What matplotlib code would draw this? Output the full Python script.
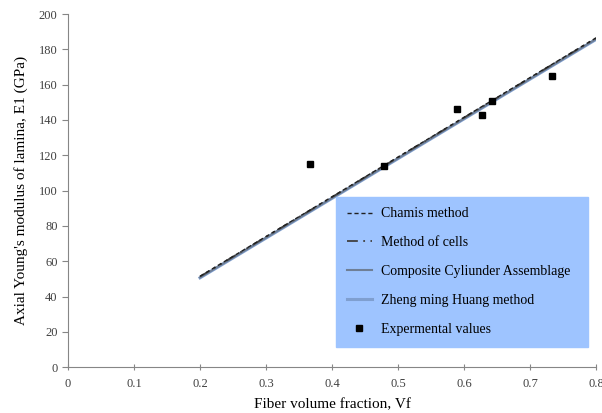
import numpy as np
import matplotlib.pyplot as plt

plt.rcParams['font.family'] = ['Liberation Serif', 'DejaVu Serif']

vf = [0.2, 0.3, 0.4, 0.5, 0.6, 0.7, 0.8]
chamis = [51.5, 74.0, 96.5, 119.0, 141.5, 164.0, 186.5]
cells = [51.3, 73.8, 96.3, 118.8, 141.3, 163.8, 186.3]
cca = [50.8, 73.3, 95.8, 118.3, 140.8, 163.3, 185.8]
huang = [50.6, 73.1, 95.6, 118.1, 140.6, 163.1, 185.6]

vf_exp = [0.366, 0.479, 0.589, 0.628, 0.643, 0.733]
e1_exp = [115, 114, 146, 143, 151, 165]

fig = plt.figure(figsize=(6.02, 4.13), dpi=100)
ax = fig.add_axes([0.113, 0.111, 0.877, 0.855])

ax.plot(vf, huang, color='#7f9fd0', lw=2.2, label='Zheng ming Huang method', zorder=2)
ax.plot(vf, cca, color='#6f7f96', lw=1.5, label='Composite Cyliunder Assemblage', zorder=3)
ax.plot(vf, cells, color='#404040', lw=1.3, dashes=(6, 3, 1, 3, 1, 3), label='Method of cells', zorder=4)
ax.plot(vf, chamis, color='#202020', lw=1.0, linestyle=(0, (3, 2)), label='Chamis method', zorder=5)
ax.plot(vf_exp, e1_exp, 's', color='black', ms=4, linestyle='none', label='Expermental values', zorder=6)

ax.set_xlim(0, 0.8)
ax.set_ylim(0, 200)
ax.set_xticks(np.arange(0, 0.81, 0.1))
ax.set_xticklabels(['0', '0.1', '0.2', '0.3', '0.4', '0.5', '0.6', '0.7', '0.8'])
ax.set_yticks(np.arange(0, 201, 20))

for s in ['top', 'right']:
    ax.spines[s].set_visible(False)
for s in ['left', 'bottom']:
    ax.spines[s].set_color('#868686')
ax.tick_params(colors='#868686', labelcolor='#404040', labelsize=9, length=4)
ax.tick_params(axis='x', direction='inout', pad=6)

ax.set_xlabel('Fiber volume fraction, Vf', fontsize=11, labelpad=6)
ax.set_ylabel("Axial Young's modulus of lamina, E1 (GPa)", fontsize=11, labelpad=8)

h, l = ax.get_legend_handles_labels()
order = [3, 2, 1, 0, 4]
leg = ax.legend([h[i] for i in order], [l[i] for i in order],
                loc='upper left', bbox_to_anchor=(0.508, 0.482, 0.477, 0.0),
                mode='expand', fontsize=10, labelspacing=1.15, handlelength=1.8,
                handletextpad=0.7, borderpad=0.75, borderaxespad=0,
                frameon=True, fancybox=False, framealpha=1)
leg.get_frame().set_facecolor('#9ec4ff')
leg.get_frame().set_edgecolor('#9ec4ff')

fig.savefig('out.png', dpi=100)
